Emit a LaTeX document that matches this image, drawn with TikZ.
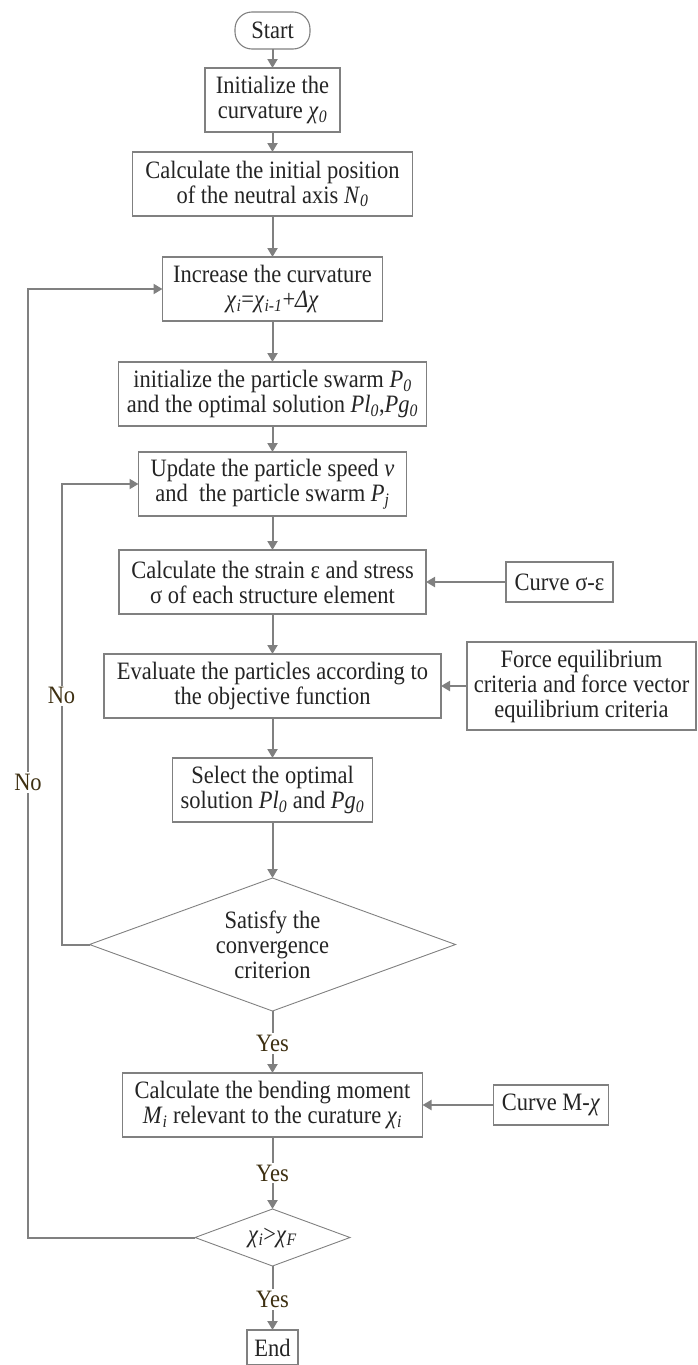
\documentclass[tikz,border=0pt]{standalone}
\usepackage{fontspec}
\setmainfont{Liberation Serif}[FakeStretch=0.9]
\usepackage{xcolor}
\usepackage{tikz}
\usetikzlibrary{arrows.meta,positioning,shapes.geometric}

\definecolor{cinzalinha}{RGB}{128,128,128}
\definecolor{cinzatexto}{RGB}{36,36,36}
\definecolor{marrom}{RGB}{62,48,18}
\newcommand{\simb}[2]{\textit{#1}\textsubscript{\textit{#2}}}

\begin{document}
\begin{tikzpicture}[
    x=1pt, y=1pt,
    every node/.style={font=\fontsize{25}{25}\selectfont, text=cinzatexto, outer sep=0pt},
    processo/.style={draw=cinzalinha, line width=1.1pt, align=center, minimum height=64pt, inner sep=2pt},
    terminal/.style={processo, rounded corners=17pt, minimum height=37pt, minimum width=75pt},
    decisao/.style={draw=cinzalinha, line width=0.9pt, diamond, align=center, inner sep=0pt},
    fluxo/.style={-{Triangle[length=9pt, width=10pt]}, draw=cinzalinha, line width=2pt},
    rotulo/.style={fill=white, text=marrom, inner sep=2pt}
]
    \useasboundingbox (0,0) rectangle (697,-1365);

    \node[terminal] (inicio) at (272.5,-30.5) {Start};
    \node[processo, minimum width=135pt, below=19pt of inicio] (curv0) {Initialize the\\curvature \simb{χ}{0}};
    \node[processo, minimum width=280pt, below=20pt of curv0] (eixo) {Calculate the initial position\\of the neutral axis \simb{N}{0}};
    \node[processo, minimum width=220pt, below=41pt of eixo] (incremento) {Increase the curvature\\\simb{χ}{i}=\simb{χ}{i-1}+\textit{Δχ}};
    \node[processo, minimum width=308pt, below=41pt of incremento] (enxame) {initialize the particle swarm \simb{P}{0}\\and the optimal solution \simb{Pl}{0},\simb{Pg}{0}};
    \node[processo, minimum width=268pt, below=26pt of enxame] (atualiza) {Update the particle speed \textit{v}\\and\ \ the particle swarm \simb{P}{j}};
    \node[processo, minimum width=307pt, below=34pt of atualiza] (deform) {Calculate the strain ε and stress\\σ of each structure element};
    \node[processo, minimum width=337pt, below=40pt of deform] (avalia) {Evaluate the particles according to\\the objective function};
    \node[processo, minimum width=200pt, below=40pt of avalia] (seleciona) {Select the optimal\\solution \simb{Pl}{0} and \simb{Pg}{0}};
    \node[decisao, minimum width=366pt, minimum height=133pt, shape aspect=2.75, below=56pt of seleciona] (conv) {Satisfy the\\convergence\\criterion};
    \node[processo, minimum width=300pt, below=62pt of conv] (momento) {Calculate the bending moment\\\simb{M}{i} relevant to the curature \simb{χ}{i}};
    \node[decisao, minimum width=155pt, minimum height=57pt, shape aspect=2.7, below=72pt of momento] (limite) {\simb{χ}{i}>\simb{χ}{F}};
    \node[processo, minimum width=51pt, minimum height=35pt, below=64pt of limite] (fim) {End};

    \node[processo, minimum width=107pt, minimum height=40pt, right=80pt of deform] (curvaSE) {Curve σ-ε};
    \node[processo, minimum width=229pt, minimum height=88pt, right=26pt of avalia] (forca) {Force equilibrium\\criteria and force vector\\equilibrium criteria};
    \node[processo, minimum width=115pt, minimum height=40pt, right=71pt of momento] (curvaM) {Curve M-\textit{χ}};

    \draw[fluxo] (inicio) -- (curv0);
    \draw[fluxo] (curv0) -- (eixo);
    \draw[fluxo] (eixo) -- (incremento);
    \draw[fluxo] (incremento) -- (enxame);
    \draw[fluxo] (enxame) -- (atualiza);
    \draw[fluxo] (atualiza) -- (deform);
    \draw[fluxo] (deform) -- (avalia);
    \draw[fluxo] (avalia) -- (seleciona);
    \draw[fluxo] (seleciona) -- (conv);
    \draw[fluxo] (conv) -- node[rotulo, pos=.52] {Yes} (momento);
    \draw[fluxo] (momento) -- node[rotulo] {Yes} (limite);
    \draw[fluxo] (limite) -- node[rotulo, pos=.52] {Yes} (fim);

    \draw[fluxo] (curvaSE) -- (deform);
    \draw[fluxo] (forca) -- (avalia);
    \draw[fluxo] (curvaM) -- (momento);

    \draw[fluxo] (conv.west) -- ++(-28,0) |- node[rotulo, pos=.27] {No} (atualiza.west);
    \draw[fluxo] (limite.west) -- ++(-167,0) |- node[rotulo, pos=.24] {No} (incremento.west);
\end{tikzpicture}
\end{document}
